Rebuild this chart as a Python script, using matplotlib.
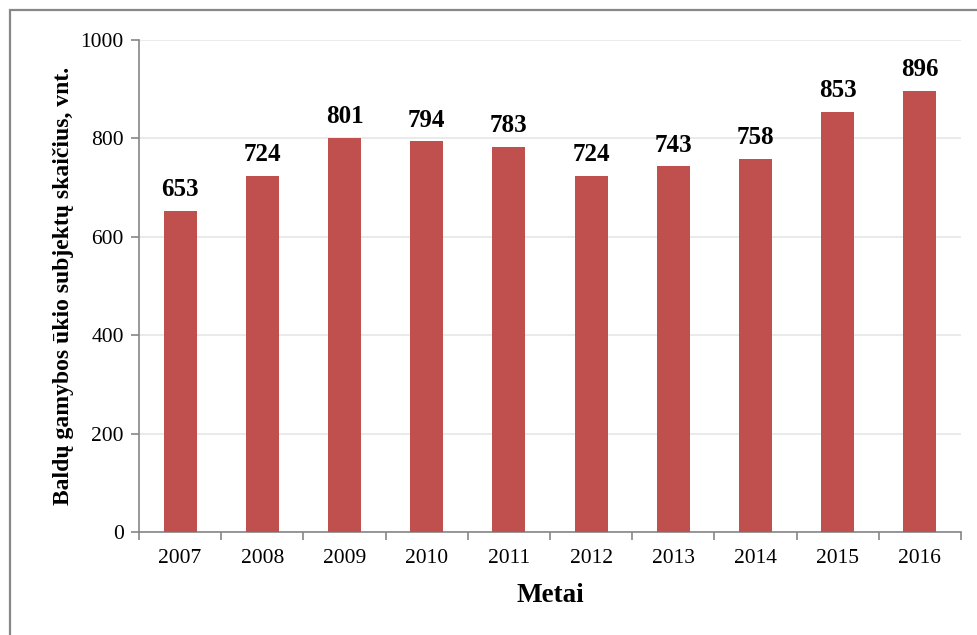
import matplotlib
matplotlib.use("Agg")
import matplotlib.pyplot as plt
from matplotlib.patches import Rectangle
import numpy as np

years = ["2007", "2008", "2009", "2010", "2011", "2012", "2013", "2014", "2015", "2016"]
values = [653, 724, 801, 794, 783, 724, 743, 758, 853, 896]
yticks = [0, 200, 400, 600, 800, 1000]

plt.rcParams['font.family'] = ['Liberation Serif', 'DejaVu Serif']

fig = plt.figure(figsize=(9.77, 6.35), dpi=100)
W, H = 977, 635
ax = fig.add_axes([139 / W, 1 - 532 / H, (961 - 139) / W, (532 - 40) / H])

x = np.arange(len(years))
ax.bar(x, values, width=0.4, color="#C0504D", zorder=3)
for xi, v in zip(x, values):
    ax.text(xi, v + 20, str(v), ha="center", va="bottom", fontsize=18, fontweight="bold", zorder=4)

ax.set_xlim(-0.5, len(years) - 0.5)
ax.set_ylim(0, 1000)
ax.set_yticks(yticks)
ax.set_yticklabels([str(t) for t in yticks], fontsize=15.5)
ax.set_xticks(x)
ax.set_xticklabels(years, fontsize=15.5)
ax.set_xticks(np.arange(-0.5, len(years)), minor=True)
ax.tick_params(axis="x", which="major", length=0, pad=12)
ax.tick_params(axis="x", which="minor", length=6, color="#868686", width=1.2, direction="out")
ax.tick_params(axis="y", length=6, color="#868686", width=1.2, direction="out", pad=5)

ax.grid(axis="y", color="#E6E6E6", linewidth=1.2, zorder=0)
for s in ["top", "right"]:
    ax.spines[s].set_visible(False)
for s in ["left", "bottom"]:
    ax.spines[s].set_color("#868686")
    ax.spines[s].set_linewidth(1.2)

ax.set_xlabel("Metai", fontsize=19.5, fontweight="bold", labelpad=11)
ax.set_ylabel("Baldų gamybos ūkio subjektų skaičius, vnt.", fontsize=17, fontweight="bold", labelpad=5)

fig.patches.append(Rectangle((10 / W, -10 / H), (W + 20) / W, (H - 0) / H,
                             transform=fig.transFigure, fill=False, edgecolor="#888888", linewidth=1.6))

fig.savefig("out.png", dpi=100)
